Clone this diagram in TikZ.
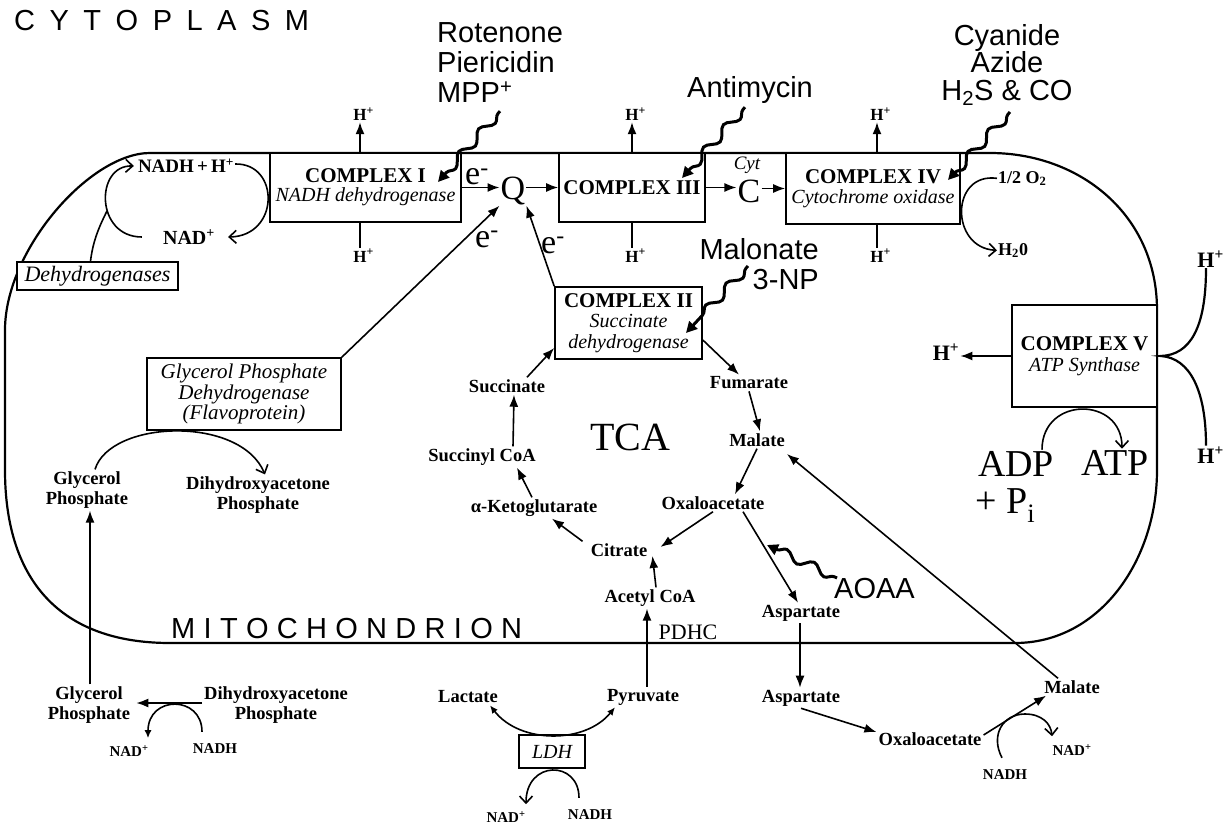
\documentclass[tikz,border=0pt]{standalone}
\usepackage{fontspec}
\setmainfont{Liberation Serif}
\setsansfont{Liberation Sans}
\usetikzlibrary{arrows.meta,decorations.pathmorphing}
\newcommand\fsz[1]{\fontsize{#1}{#1}\selectfont}
\begin{document}
\begin{tikzpicture}[x=1pt,y=-1pt,
  mem/.style={line width=2.2pt},
  cbox/.style={draw,line width=1.6pt,fill=white,inner sep=0pt,align=center},
  met/.style={font=\fontsize{18.5}{20}\selectfont\bfseries,align=center,inner sep=2pt},
  sml/.style={font=\fontsize{15}{15}\selectfont\bfseries,inner sep=2pt},
  hp/.style={font=\fontsize{17}{17}\selectfont\bfseries,inner sep=1pt,anchor=base},
  big/.style={font=\fontsize{34}{34}\selectfont,inner sep=1pt},
  inh/.style={font=\fontsize{29}{30}\selectfont\sffamily,inner sep=0pt},
  ln/.style={line width=1.6pt},
  arr/.style={line width=1.6pt,-{Latex[length=12pt,width=9pt]}},
  arrs/.style={line width=1.6pt,-{Latex[length=8pt,width=7pt]}},
  barb/.style={line width=1.6pt,-{Straight Barb[length=7pt,width=13pt,line width=1.6pt]}},
  wav/.style={line width=3pt,decorate,decoration={snake,amplitude=4.5pt,segment length=30pt,pre length=3pt,post length=10pt},-{Triangle[length=11pt,width=11pt]}},
]
\useasboundingbox (0,0) rectangle (1232,824);

% membrane
\draw[mem] (5,330) .. controls (5,250) and (90,153) .. (150,153) -- (990,153)
  .. controls (1080,153) and (1157,215) .. (1157,310) -- (1157,470)
  .. controls (1157,560) and (1100,643) .. (1015,643) -- (170,643)
  .. controls (60,643) and (5,580) .. (5,470) -- cycle;

% titles
\node[font=\fsz{29}\sffamily,inner sep=0pt,anchor=base west] (cyto) at (14,31)
  {C\kern14.5pt Y\kern14.5pt T\kern14.5pt O\kern14.5pt P\kern14.5pt L\kern14.5pt A\kern14.5pt S\kern14.5pt M};
\node[font=\fsz{29}\sffamily,inner sep=0pt,anchor=base west] (mito) at (171,638)
  {M\kern8.3pt I\kern8.3pt T\kern8.3pt O\kern8.3pt C\kern8.3pt H\kern8.3pt O\kern8.3pt N\kern8.3pt D\kern8.3pt R\kern8.3pt I\kern8.3pt O\kern8.3pt N};

% boxes
\node[cbox,minimum width=191pt,minimum height=69pt,font=\fontsize{20}{19}\selectfont] (c1) at (365.5,187.5)
  {{\fontsize{21}{19}\selectfont\bfseries COMPLEX I}\\{\itshape NADH dehydrogenase}};
\node[cbox,minimum width=146pt,minimum height=69pt,font=\fontsize{21}{21}\selectfont\bfseries] (c3) at (632,187.5) {COMPLEX III};
\node[cbox,minimum width=174pt,minimum height=71pt,font=\fontsize{20}{20}\selectfont] (c4) at (873,188.5)
  {{\fontsize{21}{20}\selectfont\bfseries COMPLEX IV}\\{\itshape Cytochrome oxidase}};
\node[cbox,minimum width=147pt,minimum height=72pt,font=\fontsize{20}{20.5}\selectfont] (c2) at (628.5,323)
  {{\fontsize{21}{20.5}\selectfont\bfseries COMPLEX II}\\{\itshape Succinate}\\{\itshape dehydrogenase}};
\node[cbox,minimum width=145pt,minimum height=102pt,font=\fontsize{20}{21}\selectfont] (c5) at (1084.5,356)
  {{\fontsize{21}{21}\selectfont\bfseries COMPLEX V}\\{\itshape ATP Synthase}};
\node[cbox,minimum width=161pt,minimum height=28pt,font=\fontsize{22}{22}\selectfont\itshape] (dehyd) at (97.5,276) {Dehydrogenases};
\node[cbox,minimum width=194pt,minimum height=72pt,font=\fontsize{21}{20.5}\selectfont\itshape] (gpdh) at (244,394)
  {Glycerol Phosphate\\Dehydrogenase\\(Flavoprotein)};
\node[cbox,minimum width=66pt,minimum height=33pt,font=\fsz{20}\itshape] (ldh) at (552,751.5) {LDH};

% electron transport chain
\node[big,anchor=base] (q) at (513,199) {Q};
\node[big,anchor=base] (cc) at (749,202) {C};
\node[font=\fsz{19}\itshape,anchor=base,inner sep=0pt] (cyt) at (747,170) {Cyt};
\draw[arr] (c1.east) -- (c1.east -| q.west);
\draw[arr] (q.east |- c3.west) -- (c3.west);
\draw[arr] (c3.east) -- (c3.east -| cc.west);
\draw[arr] (cc.east |- c4.west) -- (c4.west);
\node[big,anchor=base west,inner sep=0pt] (e1) at (465,185) {e\textsuperscript{-}};
\node[big,anchor=base west,inner sep=0pt] (e2) at (475,247) {e\textsuperscript{-}};
\node[big,anchor=base west,inner sep=0pt] (e3) at (541,253) {e\textsuperscript{-}};
\draw[arr] (gpdh.north east) -- (q.south west);
\draw[arr] (c2.north west) -- (q.south east);

% protons
\foreach \n/\x in {1/360,3/632,4/877} {
  \node[hp] (hpt\n) at (\x,121) {H\rlap{\textsuperscript{+}}};
  \node[hp] (hpb\n) at (\x,262) {H\rlap{\textsuperscript{+}}};
  \draw[arr] (hpt\n |- c\n.north) -- (hpt\n.south);
  \draw[ln] (hpb\n |- c\n.south) -- (hpb\n.north);
}

% oxygen
\node[font=\fontsize{18}{18}\selectfont\bfseries,anchor=base west,inner sep=1pt] (o2) at (997,183) {1/2 O\textsubscript{2}};
\node[font=\fontsize{18}{18}\selectfont\bfseries,anchor=base west,inner sep=1pt] (h2o) at (997,255) {H\textsubscript{2}0};
\draw[barb] (o2.west) .. controls (950,172) and (950,248) .. (h2o.west);

% complex V
\node[font=\fontsize{22}{22}\selectfont\bfseries,anchor=base,inner sep=1pt] (hpl) at (946,360) {H\textsuperscript{+}};
\draw[arr] (c5.west) -- (c5.west -| hpl.east);
\node[font=\fontsize{22}{22}\selectfont\bfseries,anchor=base,inner sep=1pt] (hpr1) at (1206,267) {H\rlap{\textsuperscript{+}}};
\node[font=\fontsize{22}{22}\selectfont\bfseries,anchor=base,inner sep=1pt] (hpr2) at (1206,463) {H\rlap{\textsuperscript{+}}};
\draw[line width=2.2pt] (hpr1.south) .. controls ([yshift=-60pt]hpr1.south) and (1190,355) .. ([xshift=3pt]c5.east)
  .. controls (1190,358) and ([yshift=55pt]hpr2.north) .. (hpr2.north);
\node[font=\fsz{38},anchor=base,inner sep=1pt] (adp) at (1016,476) {ADP};
\node[font=\fsz{38},anchor=base,inner sep=1pt] (atp) at (1115,475) {ATP};
\node[font=\fsz{38},anchor=base west,inner sep=0pt] (pi) at (975,513) {+ P\textsubscript{i}};
\draw[barb] ([xshift=26pt]adp.north) .. controls (1042,396) and (1122,396) .. ([xshift=7pt]atp.north);

% top-left NADH cycle
\node[font=\fontsize{19}{19}\selectfont\bfseries,inner sep=1pt] (nadhh) at (186,166) {NADH\,+\,H\textsuperscript{+}};
\node[font=\fsz{20}\bfseries,inner sep=1pt] (nad1) at (189,237) {NAD\textsuperscript{+}};
\draw[barb] ([yshift=2pt]nadhh.east) .. controls (280,163) and (280,236) .. ([xshift=12pt]nad1.east);
\draw[barb] ([xshift=-20pt]nad1.west) .. controls (95,237) and (95,165) .. ([xshift=-3pt]nadhh.west);
\coordinate (jn) at (107,211);
\draw[ln] ([xshift=-7pt]dehyd.north) .. controls (93,240) and (100,225) .. (jn);

% inhibitors
\node[inh,align=left,anchor=west] (rot) at (437,63) {Rotenone\\Piericidin\\MPP\textsuperscript{+}};
\node[inh,anchor=base] (anti) at (750,98) {Antimycin};
\node[inh,align=center,font=\fontsize{29}{27.5}\selectfont\sffamily] (cya) at (1007,65) {Cyanide\\Azide\\H\textsubscript{2}S \& CO};
\node[inh,align=right,anchor=east] (malo) at (819,264) {Malonate\\3-NP};
\node[inh,anchor=base west] (aoaa) at (834,598) {AOAA};

% TCA
\node[font=\fsz{40},inner sep=0pt] (tca) at (630,437) {TCA};
\node[met] (succ) at (507,386) {Succinate};
\node[met] (fum) at (749,383) {Fumarate};
\node[met] (mal) at (757,440) {Malate};
\node[met] (succoa) at (482,457) {Succinyl CoA};
\node[met] (oxa) at (713,503) {Oxaloacetate};
\node[met] (akg) at (534,508) {α-Ketoglutarate};
\node[met] (cit) at (619,550) {Citrate};
\node[met] (acoa) at (650,598) {Acetyl CoA};
\node[font=\fsz{22},inner sep=0pt] (pdhc) at (688,632) {PDHC};
\node[met] (pyr) at (643,697) {Pyruvate};
\node[met] (lac) at (468,697) {Lactate};
\node[met] (asp1) at (801,613) {Aspartate};
\node[met] (asp2) at (801,698) {Aspartate};
\node[met] (oxa2) at (930,739) {Oxaloacetate};
\node[met] (mal2) at (1072,687) {Malate};
\node[met] (gp1) at (87,490) {Glycerol\\Phosphate};
\node[met] (dhap1) at (258,495) {Dihydroxyacetone\\Phosphate};
\node[met] (gp2) at (89,705) {Glycerol\\Phosphate};
\node[met] (dhap2) at (276,705) {Dihydroxyacetone\\Phosphate};
\node[sml] (nadb) at (129,751) {NAD\textsuperscript{+}};
\node[sml] (nadhb) at (215,749) {NADH};
\node[sml] (nad3) at (506,817) {NAD\textsuperscript{+}};
\node[sml] (nadh3) at (590,815) {NADH};
\node[sml] (nad4) at (1072,750) {NAD\textsuperscript{+}};
\node[sml] (nadh4) at (1005,775) {NADH};

\draw[arr] ([xshift=20pt]succ.north) -- ([yshift=-25pt]c2.west);
\draw[arr] ([yshift=-17pt]c2.east) -- ([xshift=-10pt]fum.north);
\draw[arr] (fum.south) -- ([xshift=3pt]mal.north);
\draw[arr] (mal.south) -- ([xshift=22pt]oxa.north);
\draw[arr] (oxa.south) -- ([xshift=11pt,yshift=3pt]cit.east);
\draw[arr] ([xshift=-6pt]cit.north west) -- ([xshift=18pt]akg.south);
\draw[arr] ([xshift=-2pt]akg.north) -- ([xshift=35pt]succoa.south);
\draw[arr] ([xshift=31pt]succoa.north) -- ([xshift=7pt]succ.south);
\draw[arr] ([xshift=6pt]acoa.north) -- ([xshift=3pt,yshift=-6pt]cit.east);
\draw[arr] ([xshift=4pt]pyr.north) -- ([xshift=-3pt]acoa.south);
\draw[arr] ([xshift=30pt]oxa.south) -- ([xshift=-3pt]asp1.north);
\draw[arr] ([xshift=-1pt]asp1.south) -- ([xshift=-1pt]asp2.north);
\draw[arr] (asp2.south) -- ([yshift=7pt]oxa2.west);
\draw[arr] ([yshift=4pt]oxa2.east) -- ([xshift=4pt]mal2.south west);
\draw[arr] ([xshift=-14pt]mal2.north) -- ([yshift=-14pt]mal.east);
\draw[barb] ([xshift=-3pt,yshift=10pt]nadh4.north) .. controls (990,735) and (1003,714) .. (1025,714)
  .. controls (1042,714) and (1051,724) .. ([xshift=-20pt,yshift=6pt]nad4.north);

% glycerol phosphate shuttle
\draw[barb] ([xshift=8pt]gp1.north) .. controls (110,420) and (240,415) .. ([xshift=7pt]dhap1.north);
\draw[arr] ([xshift=1pt]gp2.north) -- ([xshift=3pt]gp1.south);
\draw[arr] ([yshift=2pt]dhap2.west) -- ([xshift=4pt,yshift=2pt]gp2.east);
\draw[arrs] ([xshift=-13pt,yshift=10pt]nadhb.north) .. controls (202,695) and (148,695) .. ([xshift=19pt,yshift=5pt]nadb.north);

% LDH
\draw[ln,{Latex[length=8pt,width=7pt]}-{Latex[length=8pt,width=7pt]}] ([xshift=22pt]lac.south) .. controls (520,744) and (585,744) .. ([xshift=-28pt]pyr.south);
\draw[barb] ([xshift=-11pt,yshift=10pt]nadh3.north) .. controls (579,760) and (526,760) .. ([xshift=20pt,yshift=5pt]nad3.north);

% inhibitor squiggles
\draw[wav] ([xshift=63pt,yshift=-8pt]rot.south west) -- ([xshift=72.5pt,yshift=5.5pt]c1.center);
\draw[wav] ([xshift=-5pt,yshift=-3pt]anti.south) -- ([xshift=50pt,yshift=9.5pt]c3.center);
\draw[wav] ([xshift=3pt,yshift=-6pt]cya.south) -- ([xshift=75pt,yshift=8.5pt]c4.center);
\draw[wav] ([xshift=-71pt,yshift=-2pt]malo.east) -- ([xshift=57.5pt,yshift=-10pt]c2.center);
\draw[wav] ([xshift=3pt,yshift=10pt]aoaa.west) -- ([xshift=54pt,yshift=-42pt]oxa.center);
\end{tikzpicture}
\end{document}
